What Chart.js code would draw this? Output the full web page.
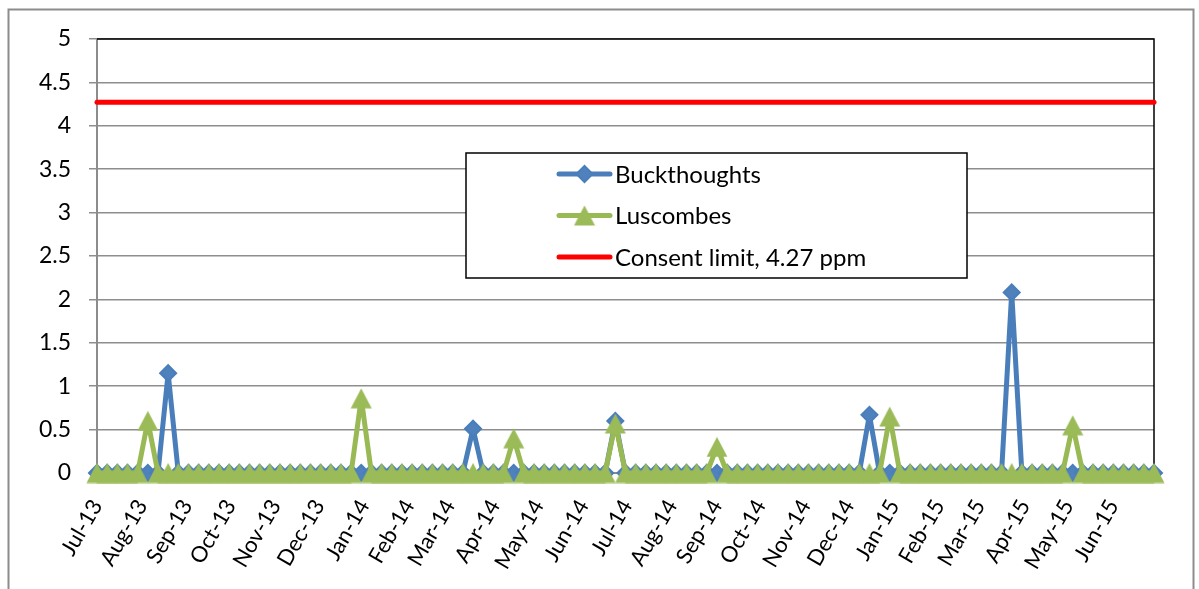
<!DOCTYPE html>
<html>
<head>
<meta charset="utf-8">
<script src="https://cdn.jsdelivr.net/npm/chart.js"></script>
<style>
  body { margin: 0; background: #fff; }
  #wrap { position: relative; width: 1199px; height: 589px; }
</style>
</head>
<body>
<div id="wrap"><canvas id="myChart" width="1199" height="589"></canvas></div>
<script>
// sampling dates (weekly), one line per month
const sampleDates = [
  "2013-07-01", "2013-07-08", "2013-07-15", "2013-07-22", "2013-07-29",
  "2013-08-05", "2013-08-12", "2013-08-19", "2013-08-26",
  "2013-09-02", "2013-09-09", "2013-09-16", "2013-09-23", "2013-09-30",
  "2013-10-07", "2013-10-14", "2013-10-21", "2013-10-28",
  "2013-11-04", "2013-11-11", "2013-11-18", "2013-11-25",
  "2013-12-02", "2013-12-09", "2013-12-16", "2013-12-23", "2013-12-30",
  "2014-01-06", "2014-01-13", "2014-01-20", "2014-01-27",
  "2014-02-03", "2014-02-10", "2014-02-17", "2014-02-24",
  "2014-03-03", "2014-03-10", "2014-03-17", "2014-03-24", "2014-03-31",
  "2014-04-07", "2014-04-14", "2014-04-21", "2014-04-28",
  "2014-05-05", "2014-05-12", "2014-05-19", "2014-05-26",
  "2014-06-02", "2014-06-09", "2014-06-16", "2014-06-23", "2014-06-30",
  "2014-07-07", "2014-07-14", "2014-07-21", "2014-07-28",
  "2014-08-04", "2014-08-11", "2014-08-18", "2014-08-25",
  "2014-09-01", "2014-09-08", "2014-09-15", "2014-09-22", "2014-09-29",
  "2014-10-06", "2014-10-13", "2014-10-20", "2014-10-27",
  "2014-11-03", "2014-11-10", "2014-11-17", "2014-11-24",
  "2014-12-01", "2014-12-08", "2014-12-15", "2014-12-22", "2014-12-29",
  "2015-01-05", "2015-01-12", "2015-01-19", "2015-01-26",
  "2015-02-02", "2015-02-09", "2015-02-16", "2015-02-23",
  "2015-03-02", "2015-03-09", "2015-03-16", "2015-03-23", "2015-03-30",
  "2015-04-06", "2015-04-13", "2015-04-20", "2015-04-27",
  "2015-05-04", "2015-05-11", "2015-05-18", "2015-05-25",
  "2015-06-01", "2015-06-08", "2015-06-15", "2015-06-22", "2015-06-29"
];

const buckthoughts = [
  0, 0, 0, 0, 0,
  0, 0, 1.15, 0,
  0, 0, 0, 0, 0,
  0, 0, 0, 0,
  0, 0, 0, 0,
  0, 0, 0, 0, 0,
  0, 0, 0, 0,
  0, 0, 0, 0,
  0, 0, 0.51, 0, 0,
  0, 0, 0, 0,
  0, 0, 0, 0,
  0, 0, 0, 0.6, 0,
  0, 0, 0, 0,
  0, 0, 0, 0,
  0, 0, 0, 0, 0,
  0, 0, 0, 0,
  0, 0, 0, 0,
  0, 0, 0.67, 0, 0,
  0, 0, 0, 0,
  0, 0, 0, 0,
  0, 0, 0, 2.08, 0,
  0, 0, 0, 0,
  0, 0, 0, 0,
  0, 0, 0, 0, 0
];

const luscombes = [
  0, 0, 0, 0, 0,
  0.6, 0, 0, 0,
  0, 0, 0, 0, 0,
  0, 0, 0, 0,
  0, 0, 0, 0,
  0, 0, 0, 0, 0.86,
  0, 0, 0, 0,
  0, 0, 0, 0,
  0, 0, 0, 0, 0,
  0, 0.4, 0, 0,
  0, 0, 0, 0,
  0, 0, 0, 0.57, 0,
  0, 0, 0, 0,
  0, 0, 0, 0,
  0.3, 0, 0, 0, 0,
  0, 0, 0, 0,
  0, 0, 0, 0,
  0, 0, 0, 0, 0.65,
  0, 0, 0, 0,
  0, 0, 0, 0,
  0, 0, 0, 0, 0,
  0, 0, 0, 0,
  0.55, 0, 0, 0,
  0, 0, 0, 0, 0
];

const consentLimit = 4.27;

const monthLabels = [
  "Jul-13", "Aug-13", "Sep-13", "Oct-13", "Nov-13", "Dec-13",
  "Jan-14", "Feb-14", "Mar-14", "Apr-14", "May-14", "Jun-14",
  "Jul-14", "Aug-14", "Sep-14", "Oct-14", "Nov-14", "Dec-14",
  "Jan-15", "Feb-15", "Mar-15", "Apr-15", "May-15", "Jun-15"
];

const DAY = 86400000;
const start = Date.parse(sampleDates[0]);
const xs = sampleDates.map(d => (Date.parse(d) - start) / DAY);
// month ticks: first day of each month after Jul 2013
const monthTicks = monthLabels.map((l, i) => (Date.UTC(2013, 6 + i, 1) - start) / DAY);

Chart.defaults.font.family = "Lato";
Chart.defaults.font.size = 23;
Chart.defaults.color = "#000";

// Excel style triangle marker, centred on the value
function makeTriangle(color) {
  const c = document.createElement("canvas");
  c.width = 22;
  c.height = 21;
  const g = c.getContext("2d");
  g.fillStyle = color;
  g.beginPath();
  g.moveTo(11, 0.5);
  g.lineTo(21.5, 20.5);
  g.lineTo(0.5, 20.5);
  g.closePath();
  g.fill();
  return c;
}
const greenTriangle = makeTriangle("#9BBB59");

// outer frame + black top/right border of the plot area
const frame = {
  id: "frame",
  beforeDraw(chart) {
    const ctx = chart.ctx;
    ctx.save();
    ctx.fillStyle = "#fff";
    ctx.fillRect(0, 0, chart.width, chart.height);
    ctx.strokeStyle = "#8c8c8c";
    ctx.lineWidth = 2;
    ctx.strokeRect(8.5, 9.5, 1185, 620);
    ctx.restore();
  },
  beforeDatasetsDraw(chart) {
    const a = chart.chartArea, ctx = chart.ctx;
    ctx.save();
    ctx.strokeStyle = "#000";
    ctx.lineWidth = 1.5;
    ctx.beginPath();
    ctx.moveTo(a.left, a.top);
    ctx.lineTo(a.right, a.top);
    ctx.lineTo(a.right, a.bottom);
    ctx.stroke();
    ctx.restore();
  }
};

// boxed legend inside the plot
const boxLegend = {
  id: "boxLegend",
  afterDatasetsDraw(chart) {
    const ctx = chart.ctx;
    ctx.save();
    ctx.fillStyle = "#fff";
    ctx.fillRect(466, 153, 501, 125);
    ctx.strokeStyle = "#000";
    ctx.lineWidth = 1.5;
    ctx.strokeRect(466, 153, 501, 125);
    chart.data.datasets.forEach((ds, i) => {
      const y = 174 + i * 41.5;
      ctx.strokeStyle = ds.borderColor;
      ctx.lineWidth = 5;
      ctx.lineCap = "round";
      ctx.beginPath();
      ctx.moveTo(559, y);
      ctx.lineTo(610, y);
      ctx.stroke();
      if (ds.pointRadius) {
        ctx.fillStyle = ds.pointBackgroundColor;
        ctx.strokeStyle = ds.pointBorderColor;
        ctx.lineWidth = ds.pointBorderWidth;
        Chart.helpers.drawPoint(ctx, {
          pointStyle: ds.pointStyle, radius: ds.pointRadius,
          borderWidth: ds.pointBorderWidth, rotation: 0
        }, 584.5, y);
      }
      ctx.fillStyle = "#000";
      ctx.font = "24px Lato";
      ctx.textBaseline = "middle";
      ctx.fillText(ds.label, 615, y + 1);
    });
    ctx.restore();
  }
};

const ctx = document.getElementById("myChart");

new Chart(ctx, {
  type: "line",
  data: {
    datasets: [
      {
        label: "Buckthoughts",
        data: xs.map((x, i) => ({ x: x, y: buckthoughts[i] })),
        borderColor: "#4A7EBB",
        borderWidth: 5,
        borderJoinStyle: "round",
        pointStyle: "rectRot",
        pointRadius: 8,
        pointBackgroundColor: "#4F81BD",
        pointBorderColor: "#4A7EBB",
        pointBorderWidth: 2,
        clip: false,
        order: 2
      },
      {
        label: "Luscombes",
        data: xs.map((x, i) => ({ x: x, y: luscombes[i] })),
        borderColor: "#98B954",
        borderWidth: 5,
        borderJoinStyle: "round",
        pointStyle: greenTriangle,
        pointRadius: 10,
        pointBackgroundColor: "#9BBB59",
        pointBorderColor: "#98B954",
        pointBorderWidth: 0,
        clip: false,
        order: 1
      },
      {
        label: "Consent limit, 4.27 ppm",
        data: [
          { x: xs[0], y: consentLimit },
          { x: xs[xs.length - 1], y: consentLimit }
        ],
        borderColor: "#FF0000",
        borderWidth: 5,
        borderCapStyle: "round",
        pointRadius: 0,
        clip: false,
        order: 0
      }
    ]
  },
  options: {
    responsive: false,
    animation: false,
    devicePixelRatio: 1,
    layout: { padding: { left: 0, top: 39, right: 45, bottom: 0 } },
    plugins: {
      legend: { display: false },
      tooltip: { enabled: false }
    },
    scales: {
      x: {
        type: "linear",
        min: xs[0],
        max: xs[xs.length - 1],
        afterBuildTicks: (scale) => {
          scale.ticks = monthTicks.map(v => ({ value: v }));
        },
        afterFit: (scale) => { scale.height = 116; },
        grid: { display: false, drawTicks: false },
        border: { display: true, color: "#8c8c8c", width: 2 },
        ticks: {
          autoSkip: false,
          minRotation: 60,
          maxRotation: 60,
          padding: 22,
          font: { size: 22 },
          callback: (value, index) => monthLabels[index]
        }
      },
      y: {
        min: 0,
        max: 5,
        afterFit: (scale) => { scale.width = 97; },
        grid: { color: "#8e8e8e", lineWidth: 1.5, tickLength: 8 },
        border: { color: "#8c8c8c", width: 2 },
        ticks: { stepSize: 0.5, padding: 18, callback: (value) => String(value) }
      }
    }
  },
  plugins: [frame, boxLegend]
});
</script>
</body>
</html>
